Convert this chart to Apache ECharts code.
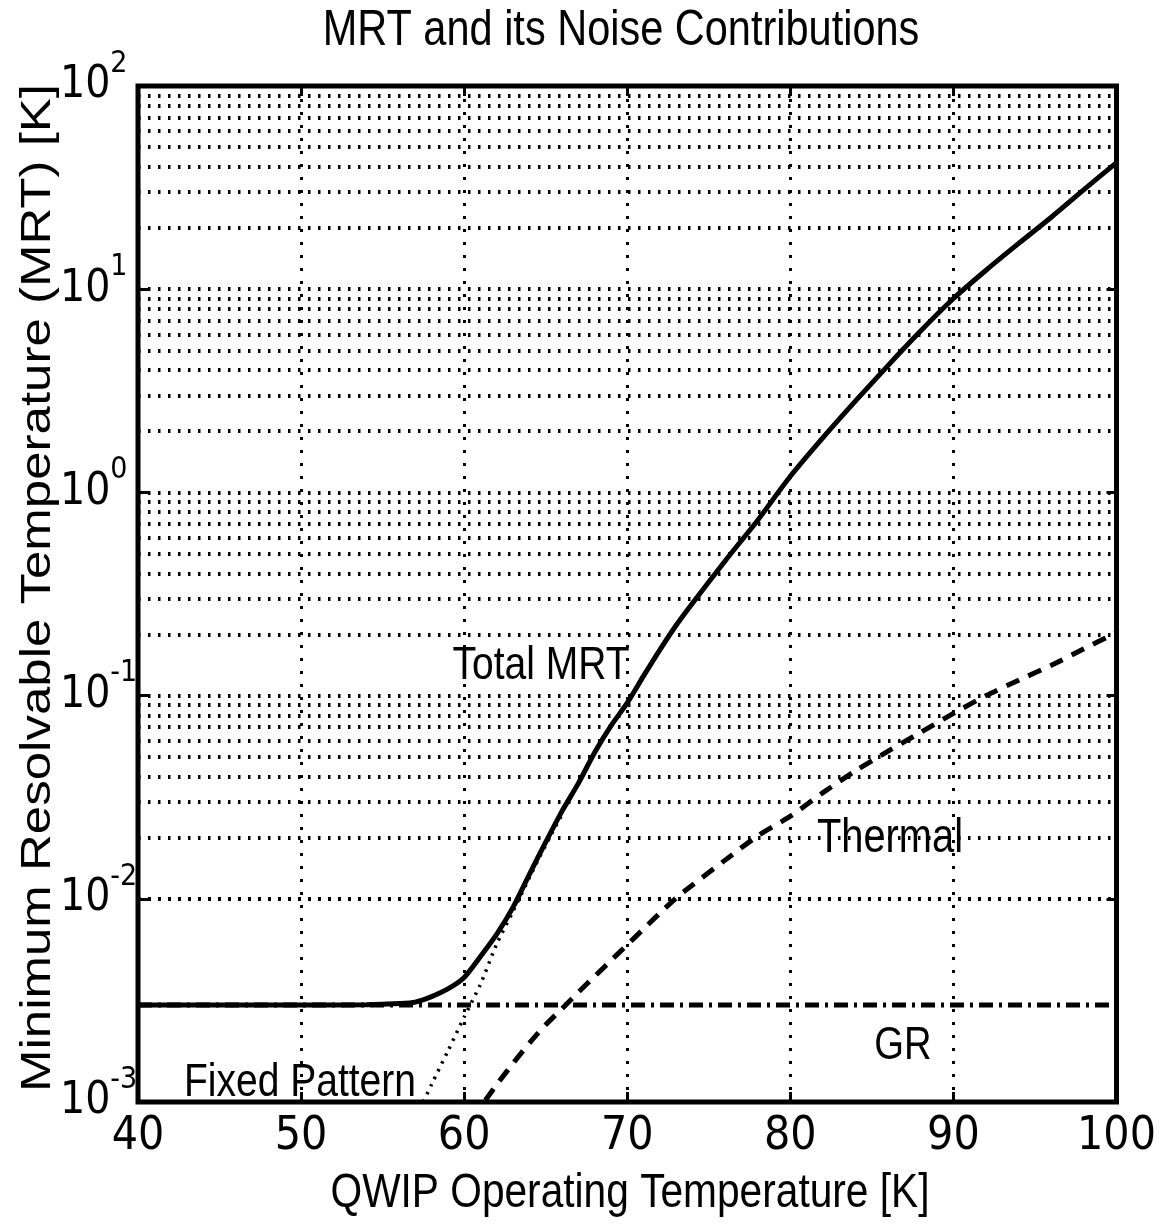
<!DOCTYPE html>
<html>
<head>
<meta charset="utf-8">
<title>MRT and its Noise Contributions</title>
<script src="https://cdn.jsdelivr.net/npm/echarts@6/dist/echarts.min.js"></script>
<style>
  html, body { margin: 0; padding: 0; background: #fff; }
  #main { width: 1159px; height: 1226px; }
</style>
</head>
<body>
<div id="main"></div>
<script>
// values
var totalT = [40, 45, 50, 54, 56, 57, 58, 59, 60, 61, 62, 63, 64, 65, 66, 67, 68, 69, 70, 71, 72, 73, 74, 76, 78, 80, 82, 84, 86, 88, 90, 92, 94, 96, 98, 100];
var totalMRT = [0.0030, 0.0030, 0.0030, 0.00301, 0.00305, 0.0031, 0.0033, 0.0036, 0.0041, 0.0052, 0.0067, 0.0091, 0.0132, 0.019, 0.027, 0.037, 0.0525, 0.071, 0.092, 0.125, 0.168, 0.222, 0.285, 0.46, 0.73, 1.2, 1.86, 2.82, 4.22, 6.24, 9.0, 12.4, 16.8, 22.6, 30.9, 42];

var thermalT = [61.3, 62, 63, 64, 65, 66, 67, 68, 69, 70, 71, 72, 73, 74, 76, 78, 80, 82, 84, 86, 88, 90, 92, 94, 96, 98, 100];
var thermalMRT = [0.00102, 0.00122, 0.00155, 0.00195, 0.0024, 0.00288, 0.00347, 0.00415, 0.00497, 0.00594, 0.00711, 0.0085, 0.0101, 0.0117, 0.0155, 0.0204, 0.0255, 0.0333, 0.0427, 0.0533, 0.066, 0.0817, 0.100, 0.119, 0.141, 0.170, 0.204];

var fixedT = [57.5, 58, 59, 60, 61, 62, 63, 64, 65, 66];
var fixedMRT = [0.0010, 0.00122, 0.00178, 0.00262, 0.0038, 0.0060, 0.0087, 0.0127, 0.0184, 0.026];

var grT = [40, 100];
var grMRT = [0.003, 0.003];

// log grid: every mantissa of every decade
var gridDecades = [-3, -2, -1, 0, 1];
var gridMantissas = [1, 2, 3, 4, 5, 6, 7, 8, 9];

var COND = '"DejaVu Sans Condensed", "Liberation Sans", sans-serif';
var HELV = '"Liberation Sans", Arial, sans-serif';
var SQUEEZE = 0.83; // the scan is squeezed sideways

function pairs(xs, ys) {
    return xs.map(function (x, i) { return [x, ys[i]]; });
}

function label(text, x, y, size, extra) {
    var el = {
        type: 'text', x: x, y: y, z: 10, scaleX: SQUEEZE,
        style: {
            text: text, fill: '#000', font: size + 'px ' + HELV,
            textAlign: 'center', textVerticalAlign: 'middle', align: 'center', verticalAlign: 'middle'
        }
    };
    return echarts.util.merge(el, extra || {}, true);
}

var gridLines = [];
gridDecades.forEach(function (d) {
    gridMantissas.forEach(function (m) {
        if (d === -3 && m === 1) return;
        gridLines.push({ yAxis: m * Math.pow(10, d) });
    });
});

var myChart = echarts.init(document.getElementById('main'));

var yAxisBase = {
    type: 'log',
    logBase: 10,
    min: 0.001,
    max: 100,
    splitNumber: 5,
    axisLine: { show: false },
    axisTick: { show: true, inside: true, length: 10, lineStyle: { color: '#000', width: 3 } },
    splitLine: { show: false }
};

var option = {
    backgroundColor: '#fff',
    animation: false,
    grid: {
        left: 138, right: 37, top: 86, bottom: 124,
        show: true, borderColor: '#000', borderWidth: 5, backgroundColor: 'transparent'
    },
    xAxis: [{
        type: 'value',
        min: 40, max: 100, interval: 10,
        axisLine: { show: false },
        axisTick: { show: true, inside: true, length: 10, lineStyle: { color: '#000', width: 3 } },
        axisLabel: { color: '#000', fontSize: 46, fontFamily: COND, margin: 12 },
        splitLine: { show: true, lineStyle: { color: '#000', width: 3, type: [3, 10] } }
    }, {
        type: 'value', position: 'top',
        min: 40, max: 100, interval: 10,
        axisLine: { show: false },
        axisTick: { show: true, inside: true, length: 10, lineStyle: { color: '#000', width: 3 } },
        axisLabel: { show: false },
        splitLine: { show: false }
    }],
    yAxis: [echarts.util.merge({
        position: 'left',
        axisLabel: {
            color: '#000',
            align: 'left',
            margin: 78,
            formatter: function (v) {
                var e = Math.round(Math.log10(v));
                return '{b|10}{s|' + e + '}';
            },
            rich: {
                b: { fontSize: 44, fontFamily: COND, color: '#000' },
                s: { fontSize: 30, fontFamily: COND, color: '#000', padding: [0, 0, 44, 0] }
            }
        }
    }, yAxisBase, true), echarts.util.merge({
        position: 'right',
        axisLabel: { show: false }
    }, yAxisBase, true)],
    series: [{
        name: 'grid',
        type: 'line',
        data: [],
        silent: true,
        z: 1,
        markLine: {
            silent: true,
            symbol: 'none',
            label: { show: false },
            lineStyle: { color: '#000', width: 4, type: [2.5, 7.5] },
            data: gridLines
        }
    }, {
        name: 'GR',
        type: 'line',
        data: pairs(grT, grMRT),
        showSymbol: false,
        z: 3,
        lineStyle: { color: '#000', width: 5, type: [14, 6, 3, 6] }
    }, {
        name: 'Fixed Pattern',
        type: 'line',
        data: pairs(fixedT, fixedMRT),
        showSymbol: false,
        smooth: 0.25,
        z: 3,
        lineStyle: { color: '#000', width: 3.5, type: [2.5, 6] }
    }, {
        name: 'Thermal',
        type: 'line',
        data: pairs(thermalT, thermalMRT),
        showSymbol: false,
        smooth: 0.25,
        z: 3,
        lineStyle: { color: '#000', width: 5, type: [14, 10] }
    }, {
        name: 'Total MRT',
        type: 'line',
        data: pairs(totalT, totalMRT),
        showSymbol: false,
        smooth: 0.25,
        z: 4,
        lineStyle: { color: '#000', width: 5 }
    }],
    graphic: [
        label('MRT and its Noise Contributions', 621, 31, 50),
        label('QWIP Operating Temperature [K]', 630, 1193, 49),
        label('Minimum Resolvable Temperature (MRT) [K]', 38, 588, 51, { rotation: Math.PI / 2, scaleX: 1, scaleY: SQUEEZE }),
        label('Total MRT', 541, 666, 47),
        label('Thermal', 890, 839, 48),
        label('GR', 903, 1046, 46),
        label('Fixed Pattern', 300, 1083, 47)
    ]
};

myChart.setOption(option);
</script>
</body>
</html>
